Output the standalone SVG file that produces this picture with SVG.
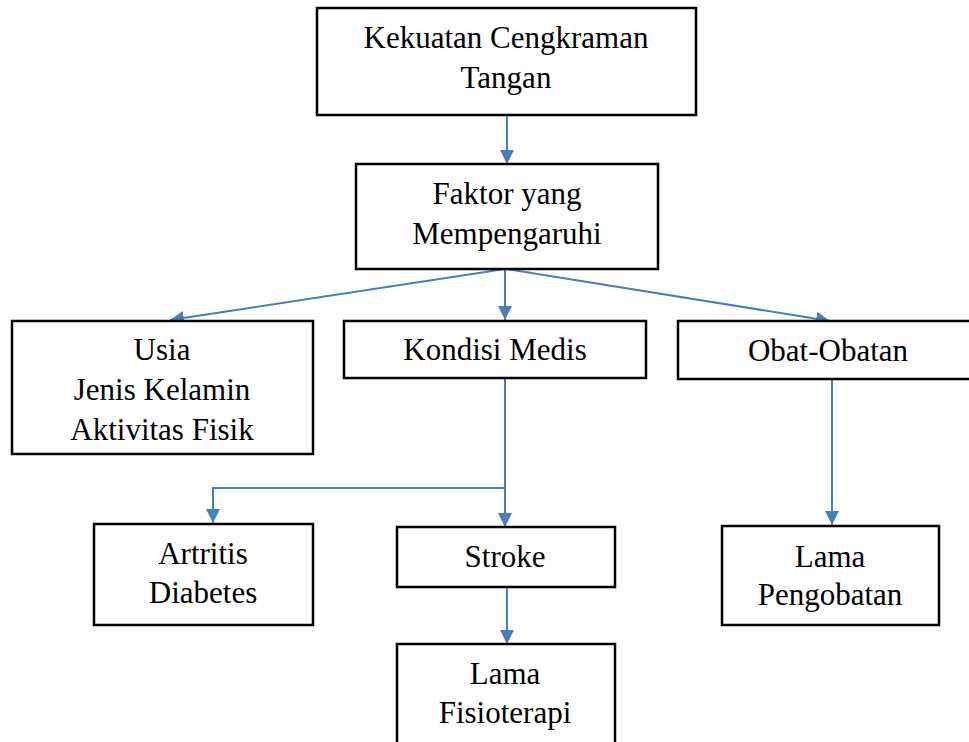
<svg xmlns="http://www.w3.org/2000/svg" width="969" height="742" viewBox="0 0 969 742">
<style>
.box{fill:#fff;stroke:#000;stroke-width:2.5}
.t{font-family:"Liberation Serif","Times New Roman",serif;font-size:31px;fill:#000;text-anchor:middle}
.c{fill:none;stroke:#4a7ebb;stroke-width:2}
</style>
<defs>
<marker id="ah" markerWidth="14" markerHeight="14" refX="14" refY="7" orient="auto" markerUnits="userSpaceOnUse">
<path d="M0,0 L14,7 L0,14 Z" fill="#4a7ebb"/>
</marker>
</defs>
<g id="connectors">
<line class="c" x1="507" y1="115" x2="507" y2="164" marker-end="url(#ah)"/>
<line class="c" x1="505" y1="269" x2="170" y2="320" marker-end="url(#ah)"/>
<line class="c" x1="505" y1="269" x2="505" y2="320" marker-end="url(#ah)"/>
<line class="c" x1="507" y1="269" x2="830" y2="321" marker-end="url(#ah)"/>
<polyline class="c" points="505,378 505,488 213,488 213,523" marker-end="url(#ah)"/>
<line class="c" x1="505" y1="488" x2="505" y2="527" marker-end="url(#ah)"/>
<line class="c" x1="507" y1="587" x2="507" y2="644" marker-end="url(#ah)"/>
<line class="c" x1="832" y1="379" x2="832" y2="525" marker-end="url(#ah)"/>
</g>
<g id="n1"><rect class="box" x="317" y="8" width="379" height="107"/>
<text class="t" x="506" y="48">Kekuatan Cengkraman</text><text class="t" x="506" y="88">Tangan</text></g>
<g id="n2"><rect class="box" x="356" y="164" width="302" height="105"/>
<text class="t" x="507" y="204">Faktor yang</text><text class="t" x="507" y="244">Mempengaruhi</text></g>
<g id="n3"><rect class="box" x="12" y="321" width="301" height="133"/>
<text class="t" x="162" y="360">Usia</text><text class="t" x="162" y="400">Jenis Kelamin</text><text class="t" x="162" y="440">Aktivitas Fisik</text></g>
<g id="n4"><rect class="box" x="344" y="321" width="302" height="57"/>
<text class="t" x="495" y="360">Kondisi Medis</text></g>
<g id="n5"><rect class="box" x="678" y="321" width="300" height="58"/>
<text class="t" x="828" y="361">Obat-Obatan</text></g>
<g id="n6"><rect class="box" x="94" y="524" width="219" height="101"/>
<text class="t" x="203" y="564">Artritis</text><text class="t" x="203" y="603">Diabetes</text></g>
<g id="n7"><rect class="box" x="397" y="527" width="218" height="60"/>
<text class="t" x="505" y="567">Stroke</text></g>
<g id="n8"><rect class="box" x="397" y="644" width="218" height="110"/>
<text class="t" x="505" y="684">Lama</text><text class="t" x="505" y="723">Fisioterapi</text></g>
<g id="n9"><rect class="box" x="722" y="526" width="217" height="99"/>
<text class="t" x="830" y="567">Lama</text><text class="t" x="830" y="605">Pengobatan</text></g>
</svg>
